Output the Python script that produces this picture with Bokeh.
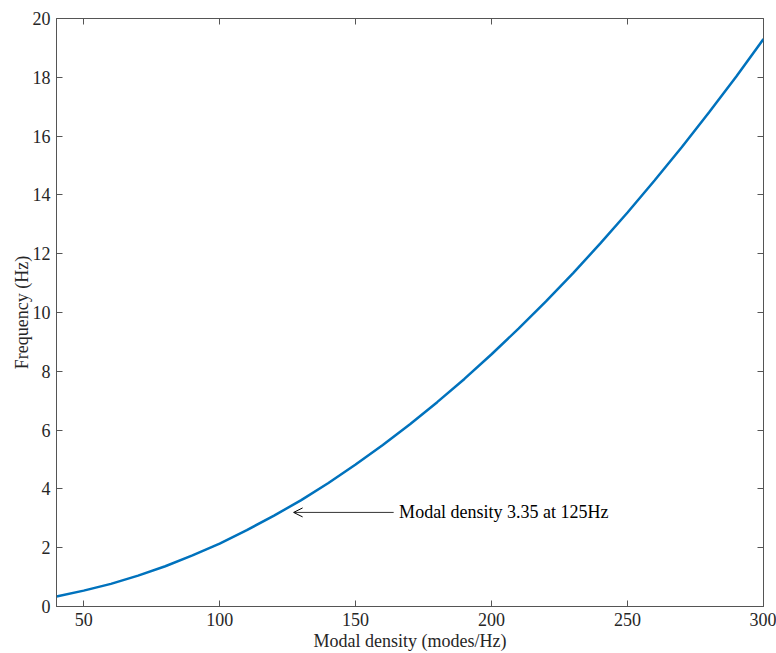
from bokeh.plotting import figure
from bokeh.models import LinearAxis, FixedTicker, Arrow, OpenHead, Label, Range1d, CustomJSTickFormatter
from bokeh.embed import file_html
from bokeh.resources import INLINE

# Data
modal_density = [40, 50, 60, 70, 80, 90, 100, 110, 120, 130, 140, 150, 160, 170,
                 180, 190, 200, 210, 220, 230, 240, 250, 260, 270, 280, 290, 300]
frequency = [0.34, 0.54, 0.77, 1.05, 1.37, 1.74, 2.14, 2.60, 3.09, 3.62, 4.20, 4.83,
             5.49, 6.20, 6.95, 7.74, 8.58, 9.46, 10.38, 11.34, 12.35, 13.40, 14.50,
             15.63, 16.81, 18.03, 19.30]
x_ticks = [50, 100, 150, 200, 250, 300]
y_ticks = [0, 2, 4, 6, 8, 10, 12, 14, 16, 18, 20]
annotation_text = "Modal density 3.35 at 125Hz"

FONT = "Liberation Serif"
AX = "#262626"
LINE = "#555555"

p = figure(width=776, height=653, output_backend="svg", toolbar_location=None,
           x_range=Range1d(40, 300), y_range=Range1d(0, 20),
           min_border_left=56, min_border_right=13, min_border_top=18, min_border_bottom=47)
p.background_fill_color = "white"
p.border_fill_color = "white"
p.outline_line_color = LINE
p.outline_line_width = 1
p.xgrid.visible = False
p.ygrid.visible = False

p.line(modal_density, frequency, line_color="#0072BD", line_width=2.5)

for ax, ticks in ((p.xaxis[0], x_ticks), (p.yaxis[0], y_ticks)):
    ax.ticker = FixedTicker(ticks=ticks)
    ax.major_tick_in = 6
    ax.major_tick_out = 0
    ax.minor_tick_line_color = None
    ax.axis_line_color = LINE
    ax.major_tick_line_color = LINE
    ax.major_label_text_font = FONT
    ax.major_label_text_font_size = "18px"
    ax.major_label_text_color = AX
    ax.major_label_standoff = 6
    ax.axis_label_text_font = FONT
    ax.axis_label_text_font_size = "18px"
    ax.axis_label_text_font_style = "normal"
    ax.axis_label_text_color = AX

p.xaxis.axis_label = "Modal density (modes/Hz)"
p.yaxis.axis_label = "Frequency (Hz)"
p.xaxis.axis_label_standoff = 2
p.yaxis.axis_label_standoff = -2

blank = CustomJSTickFormatter(code="return ''")
top = LinearAxis(ticker=FixedTicker(ticks=x_ticks), major_tick_in=6, major_tick_out=0,
                 minor_tick_line_color=None, axis_line_color=None, formatter=blank,
                 major_tick_line_color=LINE, major_label_standoff=0)
right = LinearAxis(ticker=FixedTicker(ticks=y_ticks), major_tick_in=6, major_tick_out=0,
                   minor_tick_line_color=None, axis_line_color=None, formatter=blank,
                   major_tick_line_color=LINE, major_label_standoff=0)
p.add_layout(top, "above")
p.add_layout(right, "right")

# annotation
p.add_layout(Arrow(end=OpenHead(size=9, line_color="black", line_width=1),
                   x_start=164, y_start=3.2, x_end=127.2, y_end=3.2,
                   line_color="black", line_width=0.8))
p.add_layout(Label(x=166, y=3.2, text=annotation_text, text_font=FONT,
                   text_font_size="18px", text_color="black", text_baseline="middle"))

open("out.html", "w").write(file_html(p, INLINE))
